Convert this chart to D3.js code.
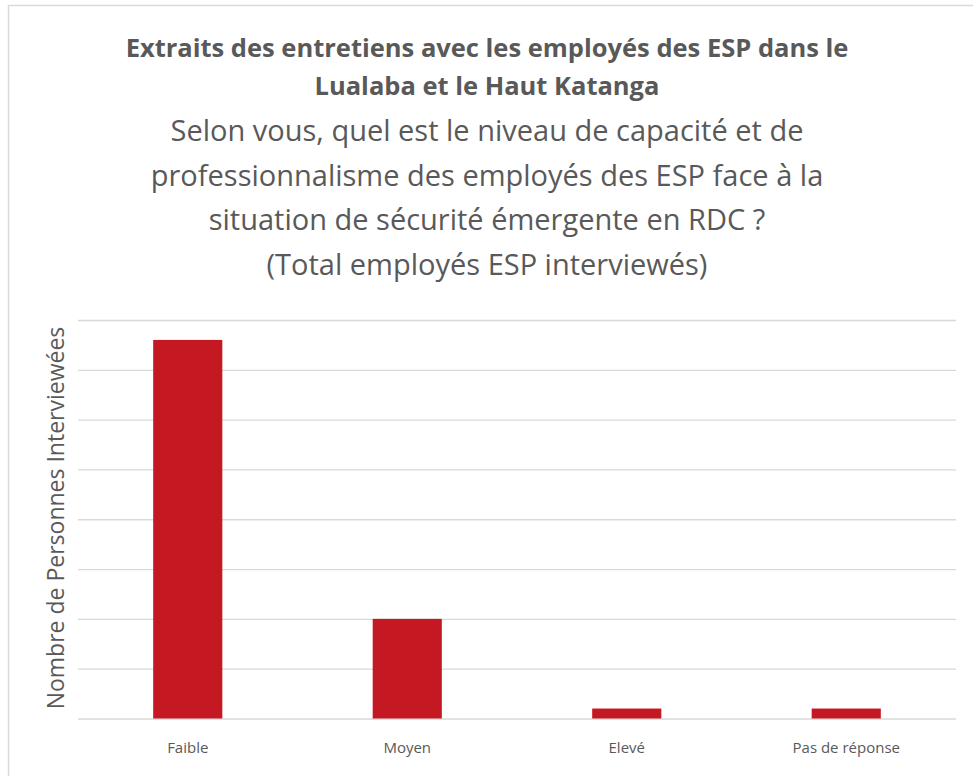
<!DOCTYPE html>
<html>
<head>
<meta charset="utf-8">
<script src="https://cdn.jsdelivr.net/npm/d3@7"></script>
<style>
  body { margin: 0; background: #fff; }
  svg { display: block; font-family: "Open Sans", sans-serif; }
</style>
</head>
<body>
<svg id="chart"></svg>
<script>
// data
var categories = ["Faible", "Moyen", "Elevé", "Pas de réponse"];
var values = [38, 10, 1, 1];
var yTicks = [0, 5, 10, 15, 20, 25, 30, 35, 40];
var titleLines = ["Extraits des entretiens avec les employés des ESP dans le", "Lualaba et le Haut Katanga"];
var subtitleLines = ["Selon vous, quel est le niveau de capacité et de",
  "professionnalisme des employés des ESP face à la",
  "situation de sécurité émergente en RDC ?",
  "(Total employés ESP interviewés)"];
var yLabel = "Nombre de Personnes Interviewées";

var W = 973, H = 776;
var svg = d3.select("#chart").attr("width", W).attr("height", H);

// chart frame (cropped on the right and bottom)
svg.append("path")
  .attr("d", "M8.5," + H + "V5.5H" + W)
  .attr("fill", "none").style("stroke", "#d9d9d9").style("stroke-width", 1.5);

var x = d3.scaleBand().domain(categories).range([78, 956]).paddingInner(0.685).paddingOuter(0.3425);
var y = d3.scaleLinear().domain([0, 40]).range([718.5, 320]);

// gridlines
svg.append("g")
  .attr("transform", "translate(78,0)")
  .call(d3.axisLeft(y).tickValues(yTicks).tickSize(-878).tickFormat(""))
  .call(function (g) { g.select(".domain").remove(); })
  .selectAll("line").style("stroke", "#d9d9d9").style("stroke-width", 1.3);

// bars
svg.selectAll(".bar").data(values).enter().append("rect")
  .attr("class", "bar")
  .attr("x", function (d, i) { return x(categories[i]); })
  .attr("width", x.bandwidth())
  .attr("y", function (d) { return y(d); })
  .attr("height", function (d) { return y(0) - y(d); })
  .attr("fill", "#c41922");

// category labels
var xAxis = svg.append("g")
  .attr("transform", "translate(0," + y(0) + ")")
  .call(d3.axisBottom(x).tickSize(0).tickPadding(24));
xAxis.select(".domain").remove();
xAxis.selectAll("text").style("font-family", "Open Sans").style("font-size", "15px").attr("fill", "#595959");

// axis title
svg.append("text")
  .attr("transform", "translate(64,518) rotate(-90)")
  .attr("text-anchor", "middle")
  .style("font-size", "23px").attr("fill", "#595959")
  .text(yLabel);

// titles
svg.selectAll(".title").data(titleLines).enter().append("text")
  .attr("class", "title")
  .attr("x", 487).attr("y", function (d, i) { return 57 + i * 38; })
  .attr("text-anchor", "middle")
  .style("font-size", "25.5px").style("font-weight", "bold").attr("fill", "#595959")
  .text(function (d) { return d; });

svg.selectAll(".subtitle").data(subtitleLines).enter().append("text")
  .attr("class", "subtitle")
  .attr("x", 487).attr("y", function (d, i) { return 141 + i * 44.5; })
  .attr("text-anchor", "middle")
  .style("font-size", "29px").attr("fill", "#595959")
  .text(function (d) { return d; });
</script>
</body>
</html>
